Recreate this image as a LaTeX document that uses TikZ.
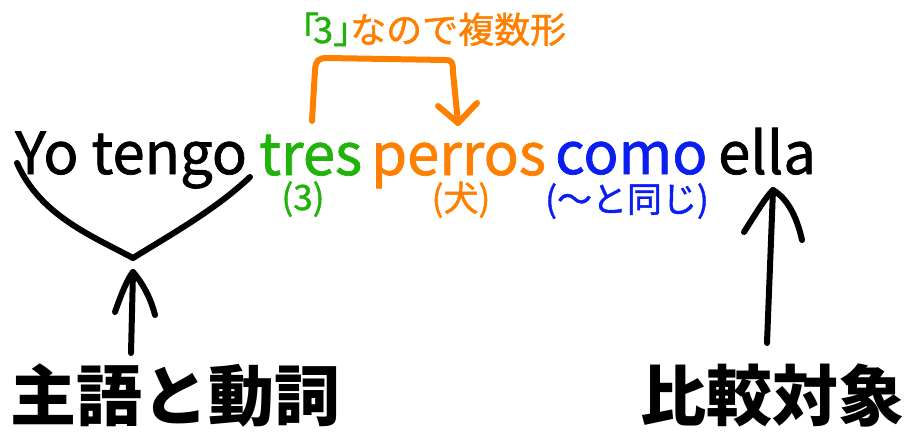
\documentclass[tikz,border=0pt]{standalone}
\usepackage{fontspec}
\setmainfont{Noto Sans CJK JP}
\newfontfamily\medfont[FakeBold=1.2]{Noto Sans CJK JP}
\definecolor{cgreen}{RGB}{34,178,12}
\definecolor{corange}{RGB}{255,127,0}
\definecolor{cblue}{RGB}{10,30,240}
\begin{document}
\begin{tikzpicture}[x=1pt,y=-1pt,
  word/.style={anchor=base west,inner sep=0pt,text depth=0pt,font=\medfont\fontsize{58}{64}\selectfont},
  gloss/.style={anchor=base,inner sep=0pt,text height=26pt,font=\medfont\fontsize{35}{40}\selectfont},
  biglabel/.style={anchor=base west,inner sep=0pt,font=\fontsize{66}{72}\selectfont\bfseries},
  pen/.style={line width=6pt,line cap=round,line join=round}]
\useasboundingbox (0,0) rectangle (914,445);
% main sentence
\node[word] (yo) at (15,174) {Yo tengo};
\node[word,text=cgreen] (tres) at (259,175) {tres};
\node[word,text=corange] (perros) at (371,175) {perros};
\node[word,text=cblue] (como) at (555,174) {como};
\node[word] (ella) at (718,174) {ella};
% glosses
\node[gloss,text=cgreen] (g3) at (303,210) {(3)};
\node[gloss,text=corange] (ginu) at (461,211) {(犬)};
\node[gloss,text=cblue] (gcomo) at (627,212) {(～と同じ)};
% top note
\node[anchor=base west,inner sep=0pt,font=\medfont\fontsize{36}{40}\selectfont] (note) at (283,43)
  {\textcolor{cgreen}{「\kern-6pt 3」}\kern-19pt\textcolor{corange}{なので複数形}};
% big labels
\node[biglabel] (subj) at (10,420) {主語と動詞};
\node[biglabel] (cmp) at (640,420) {比較対象};
% coordinates
\coordinate (bl) at (17,163);
\coordinate (br) at (250,177);
\coordinate (bv) at (133,258);
\coordinate (a1s) at (131,353);
\coordinate (a1t) at (133,272);
\coordinate (a1l) at (115,312);
\coordinate (a1r) at (155,315);
\coordinate (a2s) at (767,343);
\coordinate (a2t) at (773,190);
\coordinate (a2l) at (744,232);
\coordinate (a2r) at (802,240);
\coordinate (o1) at (312,121);
\coordinate (o2) at (458,123);
\coordinate (o2l) at (438,106);
\coordinate (o2r) at (477,103);
% brace under "Yo tengo"
\draw[pen] (bl) .. controls (40,215) and (90,235) .. (bv);
\draw[pen] (br) .. controls (215,210) and (170,235) .. (bv);
% arrow to subject/verb
\draw[pen] (a1s) -- (a1t);
\draw[pen] (a1l) .. controls (122,292) and (128,278) .. (a1t) .. controls (140,280) and (150,295) .. (a1r);
% arrow to ella
\draw[pen] (a2s) -- (a2t);
\draw[pen] (a2l) .. controls (755,215) and (765,198) .. (a2t) .. controls (790,200) and (798,222) .. (a2r);
% orange bracket
\draw[pen,corange] (o1) -- (315,70) .. controls (316,60) and (318,58) .. (328,58)
  -- (445,60) .. controls (452,60) and (453,62) .. (453,72) -- (o2);
\draw[pen,corange] (o2l) -- (o2) -- (o2r);
\end{tikzpicture}
\end{document}
